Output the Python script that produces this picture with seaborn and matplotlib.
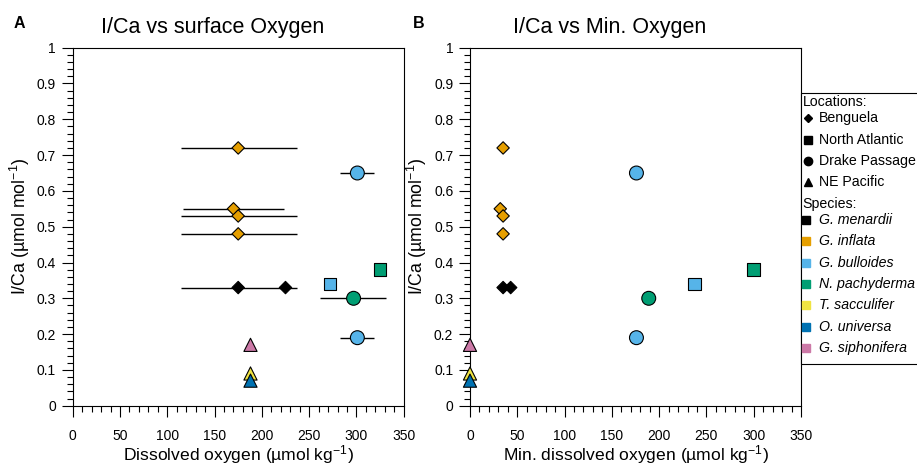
import numpy as np
import pandas as pd
import seaborn as sns
import matplotlib.pyplot as plt
from matplotlib.lines import Line2D
from matplotlib.patches import Rectangle
from matplotlib.ticker import MultipleLocator, FuncFormatter

# one row per sample
species = ["G. inflata", "G. inflata", "G. inflata", "G. inflata",
           "G. menardii", "G. menardii",
           "G. bulloides", "N. pachyderma",
           "G. bulloides", "G. bulloides", "N. pachyderma",
           "G. siphonifera", "T. sacculifer", "O. universa"]
location = ["Benguela", "Benguela", "Benguela", "Benguela",
            "Benguela", "Benguela",
            "North Atlantic", "North Atlantic",
            "Drake Passage", "Drake Passage", "Drake Passage",
            "NE Pacific", "NE Pacific", "NE Pacific"]
ica = [0.72, 0.55, 0.53, 0.48, 0.33, 0.33, 0.34, 0.38, 0.65, 0.19, 0.30, 0.17, 0.09, 0.07]
surf_o2 = [175, 170, 175, 175, 175, 225, 272, 325, 301, 301, 297, 188, 188, 188]
surf_o2_lo = [114, 117, 114, 114, 114, np.nan, np.nan, np.nan, 283, 283, 262, np.nan, np.nan, np.nan]
surf_o2_hi = [237, 223, 237, 237, 237, np.nan, np.nan, np.nan, 319, 319, 331, np.nan, np.nan, np.nan]
min_o2 = [35, 32, 35, 35, 35, 43, 237, 300, 176, 176, 189, 0, 0, 0]

species_order = ["G. menardii", "G. inflata", "G. bulloides", "N. pachyderma",
                 "T. sacculifer", "O. universa", "G. siphonifera"]
species_colors = ["#000000", "#E69F00", "#56B4E9", "#009E73", "#F0E442", "#0072B2", "#CC79A7"]
location_order = ["Benguela", "North Atlantic", "Drake Passage", "NE Pacific"]
location_markers = ["D", "s", "o", "^"]
marker_sizes = [40, 85, 100, 90]

df = pd.DataFrame({"species": species, "location": location, "ica": ica,
                   "surf_o2": surf_o2, "surf_lo": surf_o2_lo, "surf_hi": surf_o2_hi,
                   "min_o2": min_o2})

sns.set_style("ticks", {"axes.edgecolor": "black", "xtick.color": "black", "ytick.color": "black",
                        "text.color": "black", "axes.labelcolor": "black"})
plt.rcParams["font.family"] = ["Liberation Sans", "DejaVu Sans"]
plt.rcParams["mathtext.fontset"] = "custom"
plt.rcParams["mathtext.rm"] = "Liberation Sans"
plt.rcParams["mathtext.it"] = "Liberation Sans:italic"

W, H = 917, 465
fig = plt.figure(figsize=(W / 100, H / 100), dpi=100)


def fx(x):
    return x / W


def fy(y):
    return 1 - y / H


ax_a = fig.add_axes([fx(72.7), fy(405.7), 331 / W, 358 / H])
ax_b = fig.add_axes([fx(470), fy(405.7), 331 / W, 358 / H])

palette = dict(zip(species_order, species_colors))

# horizontal error bars, surface panel only
err = df.dropna(subset=["surf_lo"])
ax_a.hlines(err["ica"], err["surf_lo"], err["surf_hi"], color="black", lw=1.0, zorder=2)

for ax, xcol in [(ax_a, "surf_o2"), (ax_b, "min_o2")]:
    for loc, mk, s in zip(location_order, location_markers, marker_sizes):
        sub = df[df["location"] == loc]
        sns.scatterplot(data=sub, x=xcol, y="ica", hue="species", palette=palette,
                        marker=mk, s=s, edgecolor="black", linewidth=0.8,
                        legend=False, ax=ax, zorder=3, clip_on=False)

for ax in [ax_a, ax_b]:
    ax.set_xlim(0, 350)
    ax.set_ylim(0, 1)
    ax.xaxis.set_major_locator(MultipleLocator(50))
    ax.xaxis.set_minor_locator(MultipleLocator(10))
    ax.yaxis.set_major_locator(MultipleLocator(0.1))
    ax.yaxis.set_minor_locator(MultipleLocator(0.02))
    ax.yaxis.set_major_formatter(FuncFormatter(lambda v, p: f"{v:g}"))
    ax.tick_params(which="major", direction="out", length=8, width=0.8, labelsize=10,
                   top=False, right=False)
    ax.tick_params(which="minor", direction="out", length=4, width=0.8, top=False, right=False)
    ax.tick_params(axis="x", which="major", pad=9)
    ax.tick_params(axis="y", which="major", pad=4)
    for sp in ax.spines.values():
        sp.set_linewidth(0.8)
    ax.set_ylabel(r"I/Ca (µmol mol$^{-1}$)", fontsize=12.75)
    ax.yaxis.set_label_coords(-0.1225, 0.5)
    ax.xaxis.set_label_coords(0.5, -0.1045)

ax_a.set_xlabel(r"Dissolved oxygen (µmol kg$^{-1}$)", fontsize=12.6)
ax_b.set_xlabel(r"Min. dissolved oxygen (µmol kg$^{-1}$)", fontsize=12.6)

ax_a.text(0.422, 1.0575, "I/Ca vs surface Oxygen", transform=ax_a.transAxes,
          ha="center", va="center", fontsize=15.5)
ax_b.text(0.423, 1.0575, "I/Ca vs Min. Oxygen", transform=ax_b.transAxes,
          ha="center", va="center", fontsize=15.5)

fig.text(fx(19), fy(24), "A", fontweight="bold", fontsize=11.5, ha="center", va="center")
fig.text(fx(419), fy(24), "B", fontweight="bold", fontsize=11.5, ha="center", va="center")

# legend box (runs off the right edge like the original)
fig.add_artist(Rectangle((fx(801), fy(364)), fx(940 - 801), 271 / H, transform=fig.transFigure,
                         facecolor="white", edgecolor="black", lw=0.8, clip_on=False))

leg_fs = 10.2
y = 101.7
fig.text(fx(802.5), fy(y), "Locations:", fontsize=leg_fs, va="center", ha="left")
y += 16.6
loc_legend_ms = [4.2, 5.5, 6.0, 5.5]
for loc, mk, ms in zip(location_order, location_markers, loc_legend_ms):
    fig.add_artist(Line2D([fx(808)], [fy(y)], transform=fig.transFigure, marker=mk,
                          ms=ms, color="black", lw=0))
    fig.text(fx(819), fy(y), loc, fontsize=leg_fs, va="center", ha="left")
    y += 21.3
fig.text(fx(802.5), fy(y), "Species:", fontsize=leg_fs, va="center", ha="left")
y += 16.6
for sp_name, col in zip(species_order, species_colors):
    fig.add_artist(Line2D([fx(806)], [fy(y)], transform=fig.transFigure, marker="s",
                          ms=5.5, color=col, lw=0))
    fig.text(fx(819), fy(y), sp_name, fontsize=leg_fs, va="center", ha="left", style="italic")
    y += 21.3

fig.savefig("out.png", dpi=100)
